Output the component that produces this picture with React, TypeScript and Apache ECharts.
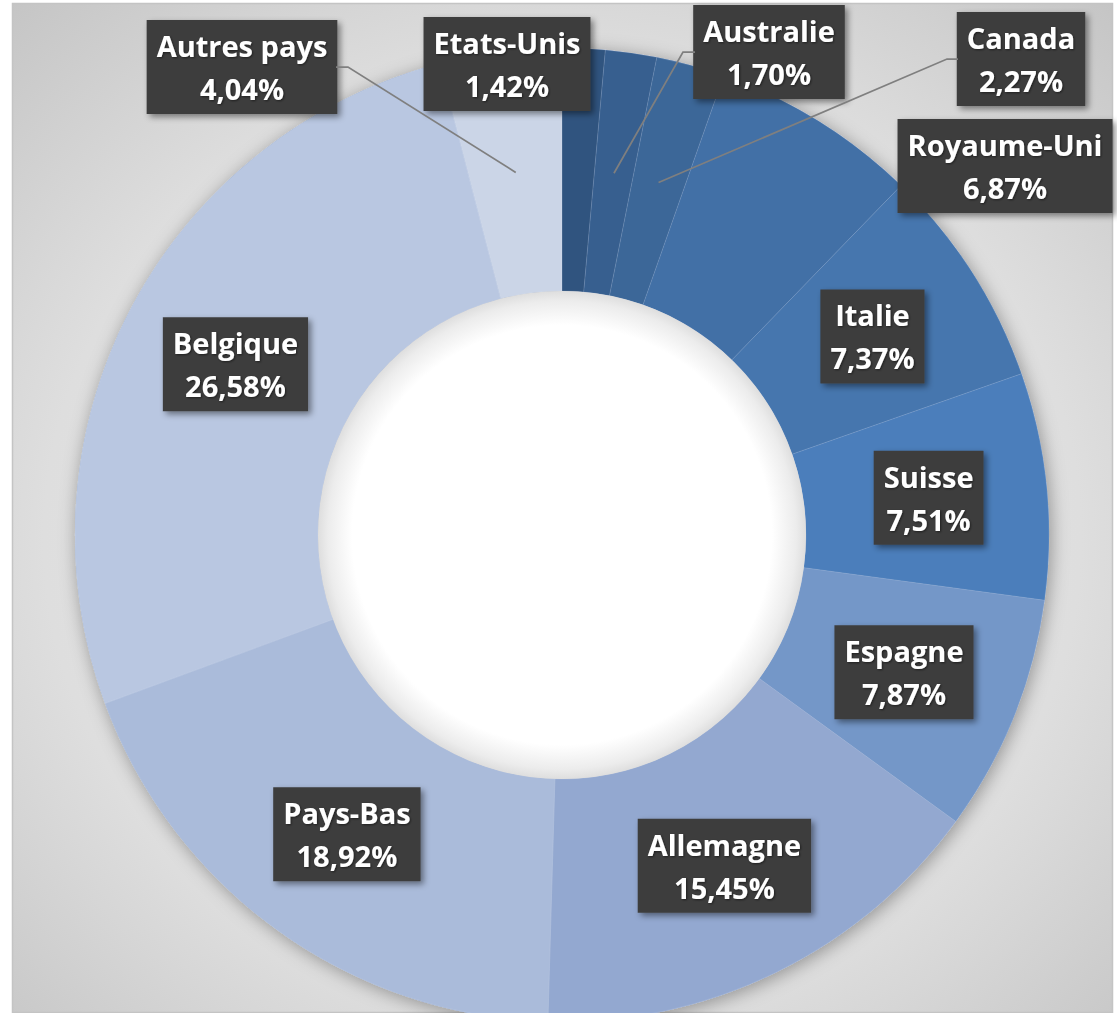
import React, { useEffect, useRef } from "react";
import * as echarts from "echarts";

const countries = [
  "Etats-Unis",
  "Australie",
  "Canada",
  "Royaume-Uni",
  "Italie",
  "Suisse",
  "Espagne",
  "Allemagne",
  "Pays-Bas",
  "Belgique",
  "Autres pays",
];
const shares = [1.42, 1.7, 2.27, 6.87, 7.37, 7.51, 7.87, 15.45, 18.92, 26.58, 4.04];
const sliceColors = [
  "#30547f",
  "#375f8f",
  "#3c6798",
  "#4270a6",
  "#4676ae",
  "#4b7ebb",
  "#7497c8",
  "#93a8d0",
  "#aabbda",
  "#b9c7e1",
  "#cbd5e7",
];

// layout (pixels)
const CX = 562;
const CY = 535;
const R_IN = 244;
const R_OUT = 487;
// moved labels: index -> [centerX, centerY, elbowX, boxEdgeX] (elbow null = no leader line)
const movedLabels: Record<number, [number, number, number | null, number | null]> = {
  0: [507, 64, null, null],
  1: [769, 52, 683, 695],
  2: [1021, 59, 947, 958],
  3: [1005, 166, null, null],
  10: [242, 67, 348, 336],
};

const fmt = (v: number) => v.toFixed(2).replace(".", ",") + "%";

export default function App() {
  const ref = useRef<HTMLDivElement>(null);
  useEffect(() => {
    if (!ref.current) return;
    const chart = echarts.init(ref.current, null, { renderer: "svg" });
    const total = shares.reduce((a, b) => a + b, 0);
    const anchors = shares.map((v, i) => {
      const before = shares.slice(0, i).reduce((a, b) => a + b, 0);
      const mid = ((before + v / 2) / total) * Math.PI * 2;
      const r = (R_IN + R_OUT) / 2;
      return [CX + r * Math.sin(mid), CY - r * Math.cos(mid)];
    });
    const leaderLines = Object.keys(movedLabels)
      .map(Number)
      .filter((k) => movedLabels[k][2] != null)
      .map((k) => {
        const m = movedLabels[k];
        const a = anchors[k];
        return {
          type: "polyline",
          z: 50,
          silent: true,
          shape: {
            points: [
              [a[0], a[1]],
              [m[2], m[1]],
              [m[3], m[1]],
            ],
          },
          style: { stroke: "#7f7f7f", lineWidth: 1.75, fill: null },
        };
      });

    chart.setOption({
      animation: false,
      backgroundColor: "#ffffff",
      graphic: [
        {
          type: "rect",
          z: -10,
          silent: true,
          shape: { x: 12.5, y: 3.5, width: 1100, height: 1009 },
          style: {
            stroke: "#c4c4c4",
            lineWidth: 1.5,
            fill: {
              type: "radial",
              x: 0.5,
              y: 0.53,
              r: 0.76,
              colorStops: [
                { offset: 0, color: "#ededed" },
                { offset: 0.62, color: "#dedede" },
                { offset: 1, color: "#c2c2c2" },
              ],
            },
          },
        },
        ...leaderLines,
      ],
      series: [
        {
          type: "pie",
          silent: true,
          z: 1,
          center: [CX, CY],
          radius: [R_IN, R_OUT],
          label: { show: false },
          labelLine: { show: false },
          data: [{ value: 1 }],
          itemStyle: {
            color: "#8fa6d0",
            shadowBlur: 18,
            shadowColor: "rgba(0,0,0,0.35)",
            shadowOffsetX: 2,
            shadowOffsetY: 3,
          },
        },
        {
          type: "pie",
          z: 2,
          center: [CX, CY],
          radius: [R_IN, R_OUT],
          startAngle: 90,
          clockwise: true,
          avoidLabelOverlap: false,
          silent: true,
          itemStyle: { borderColor: "rgba(255,255,255,0.18)", borderWidth: 0.6 },
          label: {
            show: true,
            position: "inside",
            formatter: (p: any) => p.name + "\n" + fmt(p.value),
            color: "#ffffff",
            fontFamily: "Open Sans",
            fontWeight: "bold",
            fontSize: 29,
            lineHeight: 43,
            align: "center",
            backgroundColor: "#3d3d3d",
            padding: [4, 10, 4, 10],
            shadowColor: "rgba(0,0,0,0.45)",
            shadowBlur: 6,
            shadowOffsetX: 3,
            shadowOffsetY: 3,
            textShadowColor: "rgba(0,0,0,0.5)",
            textShadowBlur: 2,
            textShadowOffsetX: 1,
            textShadowOffsetY: 1,
          },
          labelLine: { show: false },
          labelLayout: (params: any) => {
            const m = movedLabels[params.dataIndex];
            if (!m) return {};
            return { x: m[0], y: m[1], align: "center", verticalAlign: "middle" };
          },
          data: countries.map((name, i) => ({
            name,
            value: shares[i],
            itemStyle: { color: sliceColors[i] },
          })),
        },
        {
          type: "pie",
          silent: true,
          z: 3,
          center: [CX, CY],
          radius: [0, R_IN],
          label: { show: false },
          labelLine: { show: false },
          data: [{ value: 1 }],
          itemStyle: {
            color: {
              type: "radial",
              x: 0.5,
              y: 0.5,
              r: 0.5,
              colorStops: [
                { offset: 0, color: "#ffffff" },
                { offset: 0.86, color: "#ffffff" },
                { offset: 0.96, color: "#ececec" },
                { offset: 1, color: "#dedede" },
              ],
            },
          },
        },
      ],
    });
    return () => chart.dispose();
  }, []);
  return (
    <div
      ref={ref}
      style={{ position: "fixed", left: 0, top: 0, width: 1117, height: 1013 }}
    />
  );
}
